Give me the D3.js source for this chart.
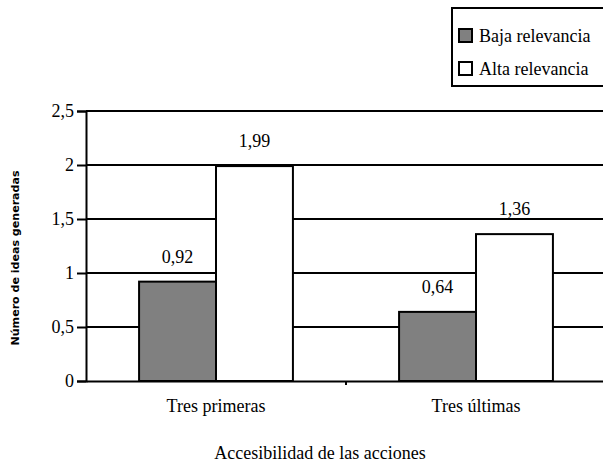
<!DOCTYPE html>
<html><head><meta charset="utf-8">
<script src="https://cdn.jsdelivr.net/npm/d3@7"></script>
</head>
<body style="margin:0;background:#fff">
<svg id="c" width="603" height="464"></svg>
<script>
const categories = ["Tres primeras", "Tres últimas"];
const seriesNames = ["Baja relevancia", "Alta relevancia"];
const baja = [0.92, 0.64];
const alta = [1.99, 1.36];
const yTicks = [0, 0.5, 1, 1.5, 2, 2.5];
const xTitle = "Accesibilidad de las acciones";
const yTitle = "Número de ideas generadas";
const colors = ["#808080", "#ffffff"];

(function () {
const SERIF = '"Liberation Serif"';
const svg = d3.select("#c");
const pL = 86, pR = 606, pT = 111, pB = 381;
const fs = 18;

const y = d3.scaleLinear().domain([0, 2.5]).range([pB, pT]);
const x0 = d3.scaleBand().domain(categories).range([pL, pR]).paddingInner(0).paddingOuter(0);
const x1 = d3.scaleBand().domain(seriesNames).range([0, x0.bandwidth()]).paddingInner(0).paddingOuter(0.69);

const fmt = v => String(v).replace(".", ",");

svg.append("g").selectAll("line").data(yTicks.filter(d => d > 0)).join("line")
  .attr("x1", pL).attr("x2", pR)
  .attr("y1", d => y(d)).attr("y2", d => y(d))
  .attr("stroke", "#000").attr("stroke-width", 2);

const yAxis = d3.axisLeft(y).tickValues(yTicks).tickFormat(fmt).tickSize(9).tickPadding(3);
const ga = svg.append("g").attr("transform", `translate(${pL},0)`).call(yAxis);
ga.select(".domain").attr("stroke", "#000").attr("stroke-width", 2);
ga.selectAll(".tick line").attr("stroke", "#000").attr("stroke-width", 2);
ga.selectAll(".tick text").style("font-family", SERIF).style("font-size", fs + "px").attr("fill", "#000");

const data = categories.map((c, i) => ({ c, vals: [baja[i], alta[i]] }));
const groups = svg.append("g").selectAll("g").data(data).join("g")
  .attr("transform", d => `translate(${x0(d.c)},0)`);
groups.selectAll("rect").data(d => d.vals.map((v, j) => ({ v, s: seriesNames[j], j }))).join("rect")
  .attr("x", d => x1(d.s)).attr("width", x1.bandwidth())
  .attr("y", d => y(d.v)).attr("height", d => y(0) - y(d.v))
  .attr("fill", d => colors[d.j]).attr("stroke", "#000").attr("stroke-width", 2);
groups.selectAll("text.val").data(d => d.vals.map((v, j) => ({ v, s: seriesNames[j] }))).join("text")
  .attr("class", "val")
  .attr("x", d => x1(d.s) + x1.bandwidth() / 2)
  .attr("y", d => y(d.v) - 19)
  .attr("text-anchor", "middle")
  .style("font-family", SERIF).style("font-size", fs + "px")
  .text(d => fmt(d.v));

const xAxis = d3.axisBottom(x0).tickSize(0).tickPadding(18);
const gx = svg.append("g").attr("transform", `translate(0,${pB})`).call(xAxis);
gx.select(".domain").attr("stroke", "#000").attr("stroke-width", 2);
gx.selectAll(".tick text").style("font-family", SERIF).style("font-size", fs + "px").attr("fill", "#000");
svg.append("line").attr("x1", x0(categories[1])).attr("x2", x0(categories[1]))
  .attr("y1", pB).attr("y2", pB + 4).attr("stroke", "#000").attr("stroke-width", 2);

svg.append("text").attr("x", 320).attr("y", 459).attr("text-anchor", "middle")
  .style("font-family", SERIF).style("font-size", fs + "px").text(xTitle);
svg.append("text").attr("transform", "translate(19,258) rotate(-90)").attr("text-anchor", "middle")
  .style("font-family", '"DejaVu Sans"').style("font-weight", "bold").style("font-size", "10px")
  .attr("textLength", 175).attr("lengthAdjust", "spacingAndGlyphs").text(yTitle);

const lg = svg.append("g");
lg.append("rect").attr("x", 452).attr("y", 8).attr("width", 152).attr("height", 78)
  .attr("fill", "#fff").attr("stroke", "#000").attr("stroke-width", 2);
seriesNames.forEach((s, i) => {
  const yy = 29 + i * 33;
  lg.append("rect").attr("x", 459).attr("y", yy).attr("width", 13).attr("height", 13)
    .attr("fill", colors[i]).attr("stroke", "#000").attr("stroke-width", 2);
  lg.append("text").attr("x", 479).attr("y", yy + 13)
    .style("font-family", SERIF).style("font-size", fs + "px").text(s);
});
})();
</script>
</body></html>
